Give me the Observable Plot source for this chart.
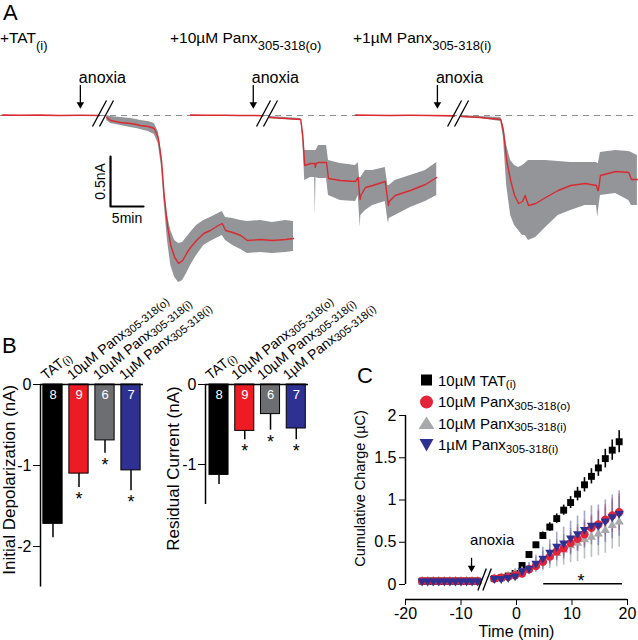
<!DOCTYPE html>
<html><head><meta charset="utf-8">
<script src="https://cdn.jsdelivr.net/npm/d3@7"></script>
<script src="https://cdn.jsdelivr.net/npm/@observablehq/plot@0.6"></script>
<style>
body{margin:0;background:#fff;}
#fig{position:relative;width:638px;height:640px;font-family:"Liberation Sans",Arial,Helvetica,sans-serif;color:#000;overflow:hidden;background:#fff;}
.abs{position:absolute;}
.letter{font-size:22px;line-height:22px;}
.title{font-size:15.5px;line-height:16px;white-space:nowrap;}
.title .sb{font-size:13px;position:relative;top:7px;}
.leg{position:absolute;left:418px;height:18px;display:flex;align-items:center;font-size:15px;white-space:nowrap;}
.leg svg{margin-right:3px;}
.leg .sb{font-size:11.5px;position:relative;top:4px;}
svg{overflow:visible;}
</style></head><body>
<div id="fig">
  <div class="abs letter" style="left:3px;top:2px">A</div>
  <div class="abs letter" style="left:2px;top:335px">B</div>
  <div class="abs letter" style="left:357px;top:365px">C</div>
  <div id="titles"></div>
  <div id="pa" class="abs" style="left:0;top:60px;width:638px"></div>
  <div id="pb1" class="abs" style="left:0;top:290px;width:175px"></div>
  <div id="pb2" class="abs" style="left:170px;top:290px;width:170px"></div>
  <div id="pc" class="abs" style="left:340px;top:360px;width:298px"></div>
  <div id="legend"></div>
</div>
<script>
// ---------------- Panel A: whole-cell current traces (time in min, current in nA) ----------------
const traceTitles = ["+TAT", "+10µM Panx", "+1µM Panx"];
const traceTitleSubs = ["(i)", "305-318(o)", "305-318(i)"];
// pre-anoxia baseline segments [time, mean]
const tatPre   = [[0.3,0.004],[3,0.002],[6,0.004],[9,0.0],[12,0.002],[15.0,0.0]];
const panxOPre = [[28.8,0.004],[31,0.002],[34,0.003],[36,0.0],[38.3,0.0],[39.8,-0.002]];
const panxIPre = [[53.8,0.004],[56,0.002],[59,0.0],[62,0.002],[65,0.0],[68.8,-0.004]];
// post-break segments [time, mean, low, high]
const tatPost = [
 [16.1,-0.02,-0.05,0.0],[16.7,-0.05,-0.08,-0.01],[18.2,-0.07,-0.10,-0.02],[19.7,-0.08,-0.12,-0.03],
 [20.6,-0.09,-0.13,-0.04],[21.2,-0.10,-0.14,-0.05],[22.4,-0.11,-0.16,-0.06],[23.3,-0.13,-0.19,-0.08],
 [23.9,-0.22,-0.28,-0.16],[24.4,-0.45,-0.52,-0.38],[24.8,-0.80,-0.88,-0.72],[25.3,-1.10,-1.25,-1.00],
 [25.8,-1.30,-1.50,-1.15],[26.4,-1.42,-1.62,-1.25],[27.0,-1.48,-1.67,-1.28],[27.6,-1.45,-1.65,-1.27],
 [28.2,-1.38,-1.58,-1.22],[28.8,-1.32,-1.50,-1.17],[29.7,-1.25,-1.40,-1.10],[30.8,-1.18,-1.30,-1.05],
 [31.8,-1.15,-1.26,-1.02],[33.0,-1.10,-1.22,-0.98],[33.6,-1.08,-1.20,-0.96],[34.1,-1.15,-1.25,-1.02],
 [35.2,-1.17,-1.30,-1.03],[36.4,-1.20,-1.34,-1.05],[37.4,-1.25,-1.38,-1.06],[39.4,-1.24,-1.37,-1.05],
 [41.2,-1.25,-1.38,-1.07],[43.2,-1.24,-1.37,-1.05],[44.4,-1.23,-1.36,-1.06]];
const panxOPost = [
 [40.8,-0.02,-0.03,-0.01],[43.2,-0.03,-0.04,-0.02],[45.5,-0.04,-0.05,-0.03],[45.8,-0.20,-0.25,-0.15],
 [46.1,-0.50,-0.65,-0.35],[47.0,-0.48,-0.62,-0.35],[47.6,-0.48,-0.62,-0.35],[47.7,-0.52,-1.00,-0.35],
 [47.8,-0.48,-0.62,-0.35],[48.2,-0.47,-0.63,-0.30],[49.4,-0.47,-0.63,-0.30],
 [49.7,-0.63,-0.80,-0.45],[51.5,-0.65,-0.85,-0.48],[53.8,-0.66,-0.86,-0.50],[54.2,-0.62,-0.80,-0.47],
 [54.4,-0.80,-1.00,-0.62],[54.5,-0.84,-1.12,-0.62],[54.6,-0.80,-1.00,-0.62],[55.3,-0.72,-0.95,-0.55],
 [56.4,-0.70,-0.90,-0.55],[58.3,-0.66,-0.86,-0.52],
 [58.7,-0.86,-1.05,-0.70],[58.8,-0.90,-1.08,-0.70],[58.9,-0.86,-1.03,-0.70],[59.8,-0.80,-1.00,-0.65],
 [62.1,-0.75,-0.92,-0.60],[64.4,-0.69,-0.86,-0.55],[66.1,-0.62,-0.80,-0.47]];
const panxIPost = [
 [69.8,-0.01,-0.02,0.0],[72.7,-0.02,-0.03,-0.01],[75.8,-0.04,-0.06,-0.02],[76.2,-0.15,-0.22,-0.10],
 [76.7,-0.45,-0.70,-0.30],[77.3,-0.65,-1.00,-0.45],[77.9,-0.80,-1.10,-0.50],[78.5,-0.88,-1.15,-0.52],
 [79.1,-0.86,-1.20,-0.50],[79.5,-0.80,-1.20,-0.48],[80.0,-0.90,-1.25,-0.45],[81.1,-0.88,-1.22,-0.45],
 [82.6,-0.82,-1.12,-0.45],[84.5,-0.75,-1.00,-0.46],[86.4,-0.70,-0.95,-0.47],[88.6,-0.68,-0.90,-0.47],
 [90.3,-0.70,-0.90,-0.47],[90.5,-0.75,-1.02,-0.48],[90.6,-0.75,-0.95,-0.48],[90.9,-0.60,-0.80,-0.37],
 [93.2,-0.56,-0.78,-0.35],[95.2,-0.57,-0.85,-0.36],[95.6,-0.64,-0.90,-0.37],[96.5,-0.64,-0.90,-0.40]];
const anoxiaTimesA = [12.1, 38.3, 66.2];
const breakTimesA = [15.0, 39.85, 68.8];
const scaleBarA = {t: 16.67, i: -0.91, dt: 5, di: 0.5};

// ---------------- Panel B: bar charts ----------------
const groupLabels = ["TAT_(i)", "10µM Panx_305-318(o)", "10µM Panx_305-318(i)", "1µM Panx_305-318(i)"];
const nCells = [8, 9, 6, 7];
const initialDep = [-1.72, -1.10, -0.69, -1.06];
const initialDepErr = [0.17, 0.17, 0.16, 0.25];
const residualCur = [-1.13, -0.58, -0.37, -0.55];
const residualCurErr = [0.12, 0.11, 0.20, 0.14];
const significant = [false, true, true, true];
const barColors = ["#000000", "#ed1c24", "#6d6e71", "#2e3192"];

// ---------------- Panel C: cumulative charge ----------------
const chargeTimes = [-17,-16,-15,-14,-13,-12,-11,-10,-9,-8,-7,
  -4,-2.75,-1.5,-0.25,1,2.25,3.5,4.75,6,7.25,8.5,9.75,11,12.25,13.5,14.75,16,17.25,18.5];
const seriesNames = ["10µM TAT", "10µM Panx", "10µM Panx", "1µM Panx"];
const seriesSubs = ["(i)", "305-318(o)", "305-318(i)", "305-318(i)"];
const tatCharge = [0.04,0.04,0.04,0.04,0.04,0.04,0.04,0.04,0.04,0.04,0.04,
  0.07,0.08,0.10,0.13,0.225,0.355,0.47,0.58,0.68,0.78,0.88,0.97,1.07,1.18,1.28,1.38,1.49,1.59,1.69];
const tatChargeErr = [0.01,0.01,0.01,0.01,0.01,0.01,0.01,0.01,0.01,0.01,0.01,
  0.01,0.01,0.01,0.015,0.02,0.025,0.03,0.04,0.05,0.055,0.06,0.07,0.08,0.085,0.09,0.10,0.11,0.12,0.13];
const panxOCharge = [0.04,0.04,0.04,0.04,0.04,0.04,0.04,0.04,0.04,0.04,0.04,
  0.07,0.08,0.09,0.11,0.13,0.18,0.22,0.27,0.33,0.39,0.43,0.49,0.54,0.595,0.67,0.71,0.766,0.817,0.856];
const panxOChargeErr = [0.01,0.01,0.01,0.01,0.01,0.01,0.01,0.01,0.01,0.01,0.01,
  0.01,0.01,0.01,0.015,0.03,0.04,0.05,0.06,0.08,0.09,0.10,0.12,0.13,0.14,0.15,0.17,0.18,0.20,0.22];
const panxICharge = [0.04,0.04,0.04,0.04,0.04,0.04,0.04,0.04,0.04,0.04,0.04,
  0.07,0.08,0.10,0.14,0.16,0.18,0.23,0.28,0.33,0.37,0.41,0.46,0.49,0.53,0.56,0.60,0.64,0.70,0.74];
const panxIChargeErr = [0.01,0.01,0.01,0.01,0.01,0.01,0.01,0.01,0.01,0.01,0.01,
  0.01,0.01,0.01,0.02,0.04,0.06,0.09,0.12,0.14,0.16,0.18,0.20,0.22,0.23,0.24,0.26,0.27,0.28,0.30];
const panx1Charge = [0.04,0.04,0.04,0.04,0.04,0.04,0.04,0.04,0.04,0.04,0.04,
  0.07,0.07,0.08,0.10,0.16,0.19,0.25,0.31,0.38,0.45,0.49,0.55,0.60,0.65,0.70,0.70,0.75,0.80,0.84];
const panx1ChargeErr = [0.01,0.01,0.01,0.01,0.01,0.01,0.01,0.01,0.01,0.01,0.01,
  0.01,0.01,0.01,0.02,0.04,0.07,0.10,0.13,0.15,0.17,0.19,0.20,0.21,0.22,0.23,0.24,0.25,0.26,0.27];
const anoxiaTimeC = -8.1;
const breakTimeC = -6.2;
const sigRange = [4.9, 19.1];

// ---------------- drawing ----------------
const FONT = '"Liberation Sans", Arial, Helvetica, sans-serif';
const baseStyle = {background: "transparent", overflow: "visible", fontFamily: FONT, fontSize: "16px", color: "#000"};
const traceRed = "#d92a32", bandGray = "#939598";

// titles (HTML)
const titleLeft = [0, 170, 353];
document.getElementById("titles").innerHTML = traceTitles.map((t, k) =>
  `<div class="abs title" style="left:${titleLeft[k]}px;top:30px">${t}<span class="sb">${traceTitleSubs[k]}</span></div>`).join("");

// Panel A
const segMarks = [];
for (const seg of [tatPre, panxOPre, panxIPre]) {
  segMarks.push(Plot.line(seg, {x: d => d[0], y: d => d[1], stroke: traceRed, strokeWidth: 1.6}));
}
for (const seg of [tatPost, panxOPost, panxIPost]) {
  segMarks.push(Plot.areaY(seg, {x: d => d[0], y1: d => d[2], y2: d => d[3], fill: bandGray}));
  segMarks.push(Plot.line(seg, {x: d => d[0], y: d => d[1], stroke: traceRed, strokeWidth: 1.4}));
}
const slashHalfT = 1.06, slashGapT = 1.06;
const plotA = Plot.plot({
  width: 638, height: 230, margin: 0,
  x: {domain: [0, 96.67], axis: null},
  y: {domain: [-1.75, 0.55], axis: null},
  style: baseStyle,
  marks: [
    Plot.ruleY([0], {stroke: "#8d8d8d", strokeDasharray: "6,5", strokeWidth: 1.2}),
    ...segMarks,
    Plot.link(breakTimesA, {x1: d => d - slashHalfT, x2: d => d + slashHalfT, y1: d => -0.11, y2: d => 0.15, stroke: "#000", strokeWidth: 1.3}),
    Plot.link(breakTimesA, {x1: d => d + slashGapT - slashHalfT, x2: d => d + slashGapT + slashHalfT, y1: d => -0.11, y2: d => 0.15, stroke: "#000", strokeWidth: 1.3}),
    Plot.ruleX(anoxiaTimesA, {y1: d => 0.30, y2: d => 0.10, stroke: "#000", strokeWidth: 1.3}),
    Plot.dot(anoxiaTimesA, {x: d => d, y: d => 0.07, dy: -4, symbol: "triangle", rotate: 180, r: 2.8, fill: "#000"}),
    Plot.text(anoxiaTimesA, {x: d => d, y: d => 0.38, text: d => "anoxia", textAnchor: "start", dx: -1.5, fontSize: 16}),
    Plot.line([[scaleBarA.t, scaleBarA.i + scaleBarA.di], [scaleBarA.t, scaleBarA.i], [scaleBarA.t + scaleBarA.dt, scaleBarA.i]],
      {x: d => d[0], y: d => d[1], stroke: "#000", strokeWidth: 2.2}),
    Plot.text([scaleBarA], {x: d => d.t, y: d => d.i + d.di / 2, text: d => d.di + "nA", rotate: -90, textAnchor: "middle", dx: -10, fontSize: 14}),
    Plot.text([scaleBarA], {x: d => d.t + d.dt / 2, y: d => d.i, text: d => d.dt + "min", dy: 12, fontSize: 14})
  ]
});
document.getElementById("pa").append(plotA);

// Panel B
function subscriptify(svg, subSize, shift) {
  d3.select(svg).selectAll("text").each(function () {
    const t = this.textContent;
    if (!t.includes("_")) return;
    const [main, sub] = t.split("_");
    const sel = d3.select(this);
    sel.text(null);
    sel.append("tspan").text(main);
    sel.append("tspan").attr("font-size", subSize).attr("dy", shift).text(sub);
  });
}
function barPanel(values, errs, cfg) {
  const rows = groupLabels.map((g, i) => ({i, g, v: values[i], e: errs[i], n: nCells[i], color: barColors[i], sig: significant[i]}));
  const svg = Plot.plot({
    width: cfg.width, height: 320,
    marginLeft: cfg.ml, marginRight: cfg.mr, marginTop: 94, marginBottom: cfg.mb,
    x: {domain: cfg.xd, axis: null},
    y: {domain: [cfg.ymin, 0]},
    color: {type: "identity"},
    style: baseStyle,
    marks: [
      Plot.ruleX(rows, {x: "i", y1: "v", y2: d => d.v - d.e, stroke: "#000", strokeWidth: 1.5}),
      Plot.rect(rows, {x1: d => d.i - 0.37, x2: d => d.i + 0.37, y1: d => 0, y2: "v", fill: "color", stroke: "#000", strokeWidth: 1}),
      Plot.ruleY([0], {stroke: "#000", strokeWidth: 1.5}),
      Plot.ruleX([cfg.xd[0]], {y1: d => 0, y2: d => cfg.axisMin, stroke: "#000", strokeWidth: 1.5}),
      Plot.text(rows, {x: "i", y: d => 0, text: "n", fill: "#fff", dy: 10, fontSize: 13}),
      Plot.text(rows.filter(d => d.sig), {x: "i", y: d => d.v - d.e, text: d => "*", dy: 12, fontSize: 18}),
      Plot.text(rows, {x: "i", y: d => 0, text: "g", rotate: -39, textAnchor: "start", lineAnchor: "bottom", dx: cfg.ldx, dy: -4, fontSize: 14}),
      Plot.axisY({ticks: cfg.ticks, tickSize: 7, tickPadding: 2, tickFormat: d => String(d), label: null, fontSize: 16}),
      Plot.text([cfg.label], {frameAnchor: "left", text: d => d, rotate: -90, textAnchor: "middle", lineAnchor: "middle", dx: cfg.labelDx, fontSize: 17})
    ]
  });
  subscriptify(svg, 11, 1.5);
  return svg;
}
document.getElementById("pb1").append(barPanel(initialDep, initialDepErr, {
  width: 175, ml: 40, mr: 32, mb: 35.6, xd: [-0.48, 3.48], ymin: -2.35, axisMin: -2.5,
  ticks: [0, -1, -2], label: "Initial Depolarization (nA)", labelDx: -31, ldx: -7
}));
document.getElementById("pb2").append(barPanel(residualCur, residualCurErr, {
  width: 170, ml: 35, mr: 32, mb: 58, xd: [-0.525, 3.475], ymin: -2.1, axisMin: -1.5,
  ticks: [0, -1], label: "Residual Current (nA)", labelDx: -31.5, ldx: -8.5
}));

// Panel C
const chargeSeries = [
  {vals: tatCharge, errs: tatChargeErr, color: "#000000", err: "#000000", errOp: 1, symbol: "square", r: 3.9, rot: 0},
  {vals: panxICharge, errs: panxIChargeErr, color: "#a7a9ac", err: "#a7a9ac", errOp: 0.75, symbol: "triangle", r: 3.4, rot: 0},
  {vals: panxOCharge, errs: panxOChargeErr, color: "#e3233a", err: "#e3233a", errOp: 0.45, symbol: "circle", r: 4.2, rot: 0},
  {vals: panx1Charge, errs: panx1ChargeErr, color: "#2e3192", err: "#5b5fa8", errOp: 0.55, symbol: "triangle", r: 3.4, rot: 180}
];
const yCmin = -0.1775;
const cMarks = [];
for (const s of chargeSeries) {
  const rows = chargeTimes.map((t, k) => ({t, v: s.vals[k], e: s.errs[k]}));
  cMarks.push(Plot.ruleX(rows, {x: "t", y1: d => d.v - d.e, y2: d => d.v + d.e, stroke: s.err, strokeOpacity: s.errOp, strokeWidth: 1.6}));
}
for (const s of chargeSeries) {
  const rows = chargeTimes.map((t, k) => ({t, v: s.vals[k]}));
  cMarks.push(Plot.dot(rows, {x: "t", y: "v", symbol: s.symbol, r: s.r, fill: s.color, rotate: s.rot}));
}
const plotC = Plot.plot({
  width: 298, height: 280, marginLeft: 65, marginRight: 11, marginTop: 17, marginBottom: 41,
  x: {domain: [-20, 20]},
  y: {domain: [yCmin, 2.45]},
  style: baseStyle,
  marks: [
    Plot.ruleY([yCmin], {stroke: "#000", strokeWidth: 1.5}),
    Plot.ruleX([-20], {y1: d => 0, y2: d => 2, stroke: "#000", strokeWidth: 1.5}),
    Plot.axisX({ticks: [-20, -10, 0, 10, 20], tickSize: 6, tickPadding: 2, tickFormat: d => String(d), label: null, fontSize: 16}),
    Plot.text(["Time (min)"], {frameAnchor: "bottom", text: d => d, textAnchor: "middle", lineAnchor: "middle", dy: 32, fontSize: 16}),
    Plot.axisY({ticks: [0, 0.5, 1, 1.5, 2], tickSize: 6, tickPadding: 3, tickFormat: d => String(d), label: null, fontSize: 16}),
    Plot.text(["Cumulative Charge (µC)"], {frameAnchor: "left", text: d => d, rotate: -90, textAnchor: "middle", lineAnchor: "middle", dx: -45, fontSize: 14.5}),
    ...cMarks,
    Plot.link([breakTimeC, breakTimeC + 0.9], {x1: d => d - 0.76, x2: d => d + 0.76, y1: d => -0.07, y2: d => 0.19, stroke: "#000", strokeWidth: 1.3}),
    Plot.ruleY([0.01], {x1: sigRange[0], x2: sigRange[1], stroke: "#000", strokeWidth: 1.5}),
    Plot.text([0.01], {x: (sigRange[0] + sigRange[1]) / 2 - 0.4, y: d => d, text: d => "*", dy: -2, fontSize: 18}),
    Plot.ruleX([anoxiaTimeC], {y1: d => 0.31, y2: d => 0.19, stroke: "#000", strokeWidth: 1.3}),
    Plot.dot([anoxiaTimeC], {x: d => d, y: d => 0.15, dy: -4, symbol: "triangle", rotate: 180, r: 2.8, fill: "#000"}),
    Plot.text([anoxiaTimeC], {x: d => d, y: d => 0.52, text: d => "anoxia", textAnchor: "start", dx: -1.5, fontSize: 15})
  ]
});
document.getElementById("pc").append(plotC);

// Legend for C (HTML)
const legendShapes = [
  '<rect x="3" y="2.5" width="11" height="11" fill="#000"/>',
  '<circle cx="8.5" cy="8" r="6.5" fill="#e3233a"/>',
  '<polygon points="8.5,1.5 16.5,14 0.5,14" fill="#a7a9ac"/>',
  '<polygon points="1.5,2 15.5,2 8.5,14.5" fill="#2e3192"/>'
];
const legendTops = [371, 392.5, 414, 435.5];
document.getElementById("legend").innerHTML = seriesNames.map((n, k) =>
  `<div class="leg" style="top:${legendTops[k]}px"><svg width="17" height="16">${legendShapes[k]}</svg>${n}<span class="sb">${seriesSubs[k]}</span></div>`).join("");
</script>
</body></html>
